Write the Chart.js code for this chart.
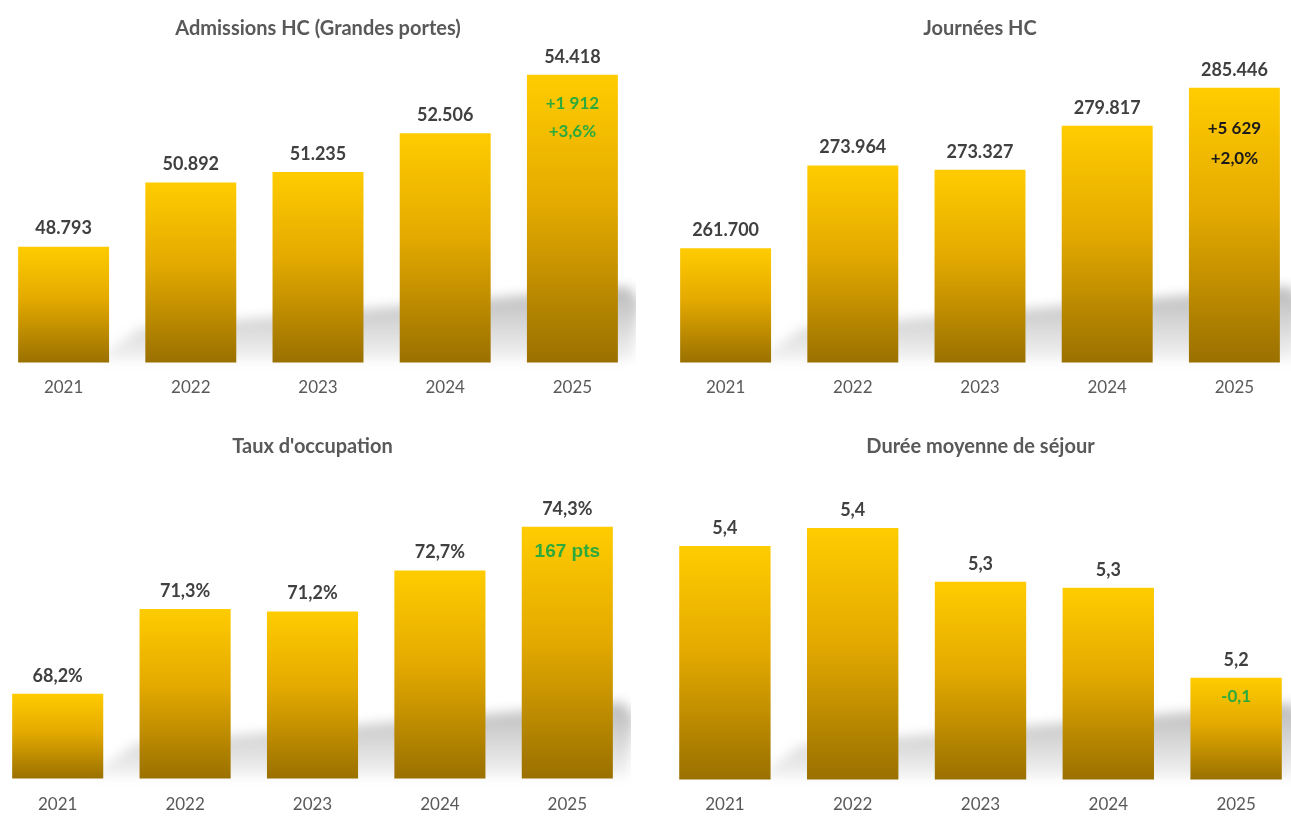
<!DOCTYPE html>
<html lang="fr">
<head>
<meta charset="utf-8">
<title>Activité HC 2021-2025</title>
<script src="https://cdn.jsdelivr.net/npm/chart.js@4.4.1/dist/chart.umd.min.js"></script>
<style>
    html, body { margin: 0; padding: 0; background: #fff; overflow: hidden; width: 1291px; height: 816px; }
    canvas { position: absolute; }
</style>
</head>
<body>
<canvas id="chartAdmissions" width="636" height="413" style="left:0px;top:0px"></canvas>
<canvas id="chartJournees" width="636" height="413" style="left:662px;top:0px"></canvas>
<canvas id="chartTaux" width="637" height="411" style="left:-6px;top:420px"></canvas>
<canvas id="chartDuree" width="639" height="410" style="left:661px;top:420px"></canvas>
<script>
// data
const years = ['2021', '2022', '2023', '2024', '2025'];
const admissions = [48793, 50892, 51235, 52506, 54418];
const journees = [261700, 273964, 273327, 279817, 285446];
const tauxOccupation = [68.2, 71.3, 71.2, 72.7, 74.3];
const dureeSejour = [5.39, 5.42, 5.33, 5.32, 5.17];   // labels show 1 decimal

const admissionsNotes = ['+1 912', '+3,6%'];
const journeesNotes = ['+5 629', '+2,0%'];
const tauxNotes = ['167 pts'];
const dureeNotes = ['-0,1'];

const GREEN = '#2eaa3c';
const FONT = 'Lato, "Open Sans", sans-serif';

function thousands(v) {
    return String(v).replace(/\B(?=(\d{3})+(?!\d))/g, '.');
}
function comma(v) {
    return v.toFixed(1).replace('.', ',');
}

function barGradient(context) {
    var chart = context.chart;
    if (!chart.chartArea) return '#f0b400';
    var top = chart.scales.y.getPixelForValue(context.raw);
    var bottom = chart.chartArea.bottom;
    var g = chart.ctx.createLinearGradient(0, top, 0, bottom);
    g.addColorStop(0, '#ffcc00');
    g.addColorStop(0.45, '#e4aa00');
    g.addColorStop(1, '#9a7000');
    return g;
}

// soft grey cast shadow behind the bars
const shadowPlugin = {
    id: 'barShadow',
    beforeDatasetsDraw(chart) {
        var a = chart.chartArea;
        var c = chart.ctx;
        c.save();
        c.filter = 'blur(6px)';
        var g = c.createLinearGradient(0, a.bottom - 75, 0, a.bottom);
        g.addColorStop(0, 'rgba(0,0,0,0.27)');
        g.addColorStop(1, 'rgba(0,0,0,0.04)');
        c.fillStyle = g;
        c.beginPath();
        c.moveTo(a.left + 95, a.bottom - 2);
        c.lineTo(a.left + 140, a.bottom - 34);
        c.lineTo(a.right - 8, a.bottom - 76);
        c.lineTo(a.right + 4, a.bottom - 60);
        c.lineTo(a.right - 4, a.bottom - 2);
        c.closePath();
        c.fill();
        c.restore();
    }
};

// value above each bar + notes inside the last bar
const labelPlugin = {
    id: 'barLabels',
    afterDatasetsDraw(chart, args, opts) {
        var c = chart.ctx;
        var meta = chart.getDatasetMeta(0);
        var values = chart.data.datasets[0].data;
        c.save();
        c.textAlign = 'center';
        c.textBaseline = 'middle';
        c.fillStyle = '#404040';
        c.font = 'bold 18px ' + FONT;
        meta.data.forEach(function (bar, i) {
            c.fillText(opts.format(values[i]), bar.x, bar.y - 18);
        });
        var last = meta.data[meta.data.length - 1];
        c.fillStyle = opts.noteColor;
        c.font = opts.noteFont;
        opts.notes.forEach(function (txt, i) {
            c.fillText(txt, last.x, last.y + opts.noteOffsets[i]);
        });
        c.restore();
    }
};

function BuildChart(id, title, values, range, layout, labelOpts) {
    var ctx = document.getElementById(id).getContext('2d');
    return new Chart(ctx, {
        type: 'bar',
        data: {
            labels: years,
            datasets: [{
                data: values,
                backgroundColor: barGradient,
                borderWidth: 0,
                categoryPercentage: 1,
                barPercentage: 0.715
            }]
        },
        options: {
            responsive: false,
            animation: false,
            layout: { padding: 0 },
            scales: {
                x: {
                    grid: { display: false, drawTicks: false },
                    border: { display: false },
                    ticks: {
                        color: '#595959',
                        padding: layout.tickPad,
                        font: { family: FONT, size: 17 }
                    }
                },
                y: { display: false, min: range[0], max: range[1] }
            },
            plugins: {
                legend: { display: false },
                tooltip: { enabled: false },
                title: {
                    display: true,
                    text: title,
                    color: '#595959',
                    font: { family: FONT, size: 20, weight: 'bold' },
                    padding: { top: layout.titleTop, bottom: layout.titleBottom }
                },
                barLabels: labelOpts
            }
        },
        plugins: [shadowPlugin, labelPlugin]
    });
}

BuildChart('chartAdmissions', 'Admissions HC (Grandes portes)', admissions, [45000, 55000],
    { titleTop: 17, titleBottom: 16, tickPad: 15 },
    { format: thousands, notes: admissionsNotes, noteOffsets: [29, 57],
      noteColor: GREEN, noteFont: 'bold 17px ' + FONT });

BuildChart('chartJournees', 'Journées HC', journees, [244800, 290000],
    { titleTop: 17, titleBottom: 16, tickPad: 15 },
    { format: thousands, notes: journeesNotes, noteOffsets: [41, 71],
      noteColor: '#1a1a1a', noteFont: 'bold 17px ' + FONT });

BuildChart('chartTaux', "Taux d'occupation", tauxOccupation, [65.1, 76.3],
    { titleTop: 15, titleBottom: 13, tickPad: 16 },
    { format: function (v) { return comma(v) + '%'; }, notes: tauxNotes, noteOffsets: [25],
      noteColor: GREEN, noteFont: 'bold 19px "Liberation Sans", Arial, sans-serif' });

BuildChart('chartDuree', 'Durée moyenne de séjour', dureeSejour, [5.0, 5.5],
    { titleTop: 15, titleBottom: 21, tickPad: 15 },
    { format: comma, notes: dureeNotes, noteOffsets: [19],
      noteColor: GREEN, noteFont: 'bold 17px ' + FONT });
</script>
</body>
</html>
